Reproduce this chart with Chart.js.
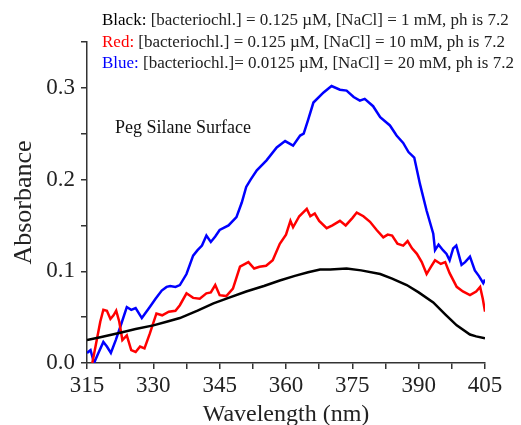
<!DOCTYPE html>
<html lang="en">
<head>
  <meta charset="UTF-8">
  <title>Absorbance spectra</title>
  <script src="https://cdn.jsdelivr.net/npm/chart.js"></script>
  <style>
    html, body { margin: 0; padding: 0; background: #fff; }
    .wrap { width: 521px; height: 425px; }
  </style>
</head>
<body>
<div class="wrap"><canvas id="spec" width="521" height="425"></canvas></div>
<script>
  // wavelengths (nm) and absorbance
  const blackWl = [315, 318, 322.5, 326, 330, 333, 336, 340, 343.6, 347, 351, 355, 358.6, 362, 365, 367.7, 370, 373.7, 377, 381.3, 384, 387.3, 390, 393.3, 396, 398.6, 401.6, 403, 405];
  const blackAbs = [0.025, 0.028, 0.033, 0.037, 0.041, 0.045, 0.049, 0.057, 0.065, 0.071, 0.078, 0.084, 0.090, 0.095, 0.099, 0.102, 0.102, 0.103, 0.101, 0.097, 0.092, 0.085, 0.077, 0.066, 0.053, 0.041, 0.031, 0.029, 0.027];

  const redWl = [316.2, 317, 318, 318.7, 319.5, 320.3, 321, 321.6, 322.3, 323, 324, 325, 326, 327, 328, 329.2, 330.7, 332, 333.5, 335, 336, 337.5, 339, 340.5, 342, 343, 344, 345, 346.5, 348, 349.6, 351.5, 352.8, 354, 355.5, 357, 358.6, 360, 361, 361.6, 363, 364.7, 365.5, 366.5, 367.5, 369.2, 370.5, 372.2, 373.5, 375, 376, 377.5, 379, 380.5, 382, 383, 384, 385.2, 386.5, 387.5, 388.5, 389.6, 390.7, 391.8, 392.8, 393.7, 395, 396, 397, 398.6, 400, 401.6, 403, 403.9, 404.5, 405];
  const redAbs = [0.0, 0.02, 0.045, 0.058, 0.057, 0.048, 0.052, 0.057, 0.045, 0.025, 0.030, 0.014, 0.012, 0.018, 0.016, 0.032, 0.054, 0.052, 0.056, 0.057, 0.063, 0.076, 0.071, 0.070, 0.076, 0.077, 0.085, 0.074, 0.073, 0.081, 0.105, 0.110, 0.103, 0.105, 0.106, 0.112, 0.130, 0.140, 0.155, 0.148, 0.160, 0.168, 0.160, 0.163, 0.155, 0.147, 0.150, 0.155, 0.150, 0.158, 0.164, 0.160, 0.154, 0.145, 0.137, 0.140, 0.139, 0.130, 0.128, 0.133, 0.125, 0.119, 0.110, 0.097, 0.105, 0.112, 0.108, 0.110, 0.098, 0.083, 0.078, 0.074, 0.078, 0.083, 0.070, 0.056];

  const blueWl = [315, 315.8, 316.6, 317.5, 318.7, 319.5, 320.4, 321.5, 322.5, 324, 325, 326, 327.4, 328.3, 329.2, 330.5, 331.9, 333, 333.8, 335, 336, 337.5, 339, 340, 341, 342, 343, 344, 345, 347, 348.8, 350, 351, 352, 353.4, 355.6, 357.9, 359.8, 361.6, 363.2, 364, 365, 366.2, 368.5, 370.3, 372.2, 373.7, 375.3, 376.7, 377.8, 379.7, 381.3, 383.5, 385, 386.5, 387.7, 389, 390.3, 391.8, 393.3, 393.7, 394.5, 395.5, 396.3, 397, 397.8, 398.5, 399.7, 400.5, 401.6, 402.7, 403.6, 404.6, 405];
  const blueAbs = [0.011, 0.014, 0.0, 0.010, 0.023, 0.018, 0.011, 0.025, 0.039, 0.061, 0.058, 0.060, 0.049, 0.055, 0.061, 0.070, 0.079, 0.083, 0.084, 0.083, 0.085, 0.097, 0.117, 0.123, 0.128, 0.139, 0.132, 0.138, 0.145, 0.150, 0.159, 0.175, 0.192, 0.200, 0.210, 0.221, 0.235, 0.242, 0.237, 0.248, 0.250, 0.265, 0.284, 0.295, 0.302, 0.298, 0.297, 0.290, 0.286, 0.288, 0.280, 0.268, 0.259, 0.248, 0.240, 0.230, 0.224, 0.195, 0.166, 0.141, 0.123, 0.129, 0.123, 0.119, 0.112, 0.125, 0.128, 0.107, 0.110, 0.116, 0.101, 0.095, 0.087, 0.091];

  const legendLines = [
    ['Black:', '#000', ' [bacteriochl.] = 0.125 \u00b5M, [NaCl] = 1 mM, ph is 7.2'],
    ['Red:', '#f00', ' [bacteriochl.] = 0.125 \u00b5M, [NaCl] = 10 mM, ph is 7.2'],
    ['Blue:', '#00f', ' [bacteriochl.]= 0.0125 \u00b5M, [NaCl] = 20 mM, ph is 7.2']
  ];

  const toPoints = (xs, ys) => xs.map((x, i) => ({ x: x, y: ys[i] }));
  const serif = '"Liberation Serif", "Times New Roman", serif';
  const axisColor = '#333';

  // header text and in-plot label
  const notes = {
    id: 'notes',
    afterDraw(chart) {
      const ctx = chart.ctx;
      ctx.save();
      ctx.font = '17px ' + serif;
      ctx.textBaseline = 'middle';
      legendLines.forEach((line, i) => {
        const y = 21 + i * 21.5;
        ctx.fillStyle = line[1];
        ctx.fillText(line[0], 102, y);
        const w = ctx.measureText(line[0]).width;
        ctx.fillStyle = '#222';
        ctx.fillText(line[2], 102 + w, y);
      });
      ctx.font = '18px ' + serif;
      ctx.fillStyle = '#111';
      ctx.fillText('Peg Silane Surface', 115, 128);
      ctx.restore();
    }
  };

  new Chart(document.getElementById('spec'), {
    type: 'line',
    data: {
      datasets: [
        { data: toPoints(blackWl, blackAbs), borderColor: '#000' },
        { data: toPoints(redWl, redAbs), borderColor: '#f00' },
        { data: toPoints(blueWl, blueAbs), borderColor: '#00f' }
      ]
    },
    options: {
      responsive: false,
      animation: false,
      layout: { padding: { top: 42, right: 36, left: 0, bottom: 0 } },
      elements: {
        line: { borderWidth: 2.5, tension: 0 },
        point: { radius: 0 }
      },
      plugins: {
        legend: { display: false },
        tooltip: { enabled: false }
      },
      scales: {
        x: {
          type: 'linear',
          min: 315,
          max: 405,
          afterFit: s => { s.height = 62; },
          border: { display: true, color: axisColor, width: 1.5 },
          grid: { drawOnChartArea: false, tickLength: 6, color: axisColor, lineWidth: 1.5 },
          ticks: {
            stepSize: 7.5,
            autoSkip: false,
            maxRotation: 0,
            color: '#222',
            font: { family: serif, size: 23 },
            callback: v => (v % 15 === 0 ? String(v) : '')
          },
          title: {
            display: true,
            text: 'Wavelength (nm)',
            color: '#222',
            font: { family: serif, size: 24 },
            padding: { top: 0, bottom: -4 }
          }
        },
        y: {
          min: 0,
          max: 0.35,
          afterFit: s => { s.width = 87; },
          border: { display: true, color: axisColor, width: 1.5 },
          grid: { drawOnChartArea: false, tickLength: 6, color: axisColor, lineWidth: 1.5 },
          ticks: {
            stepSize: 0.05,
            autoSkip: false,
            padding: 6,
            color: '#222',
            font: { family: serif, size: 23 },
            callback: v => (Math.round(v * 100) % 10 === 0 ? v.toFixed(1) : '')
          },
          title: {
            display: true,
            text: 'Absorbance',
            color: '#222',
            font: { family: serif, size: 26 },
            padding: { top: 9, bottom: 0 }
          }
        }
      }
    },
    plugins: [notes]
  });
</script>
</body>
</html>
